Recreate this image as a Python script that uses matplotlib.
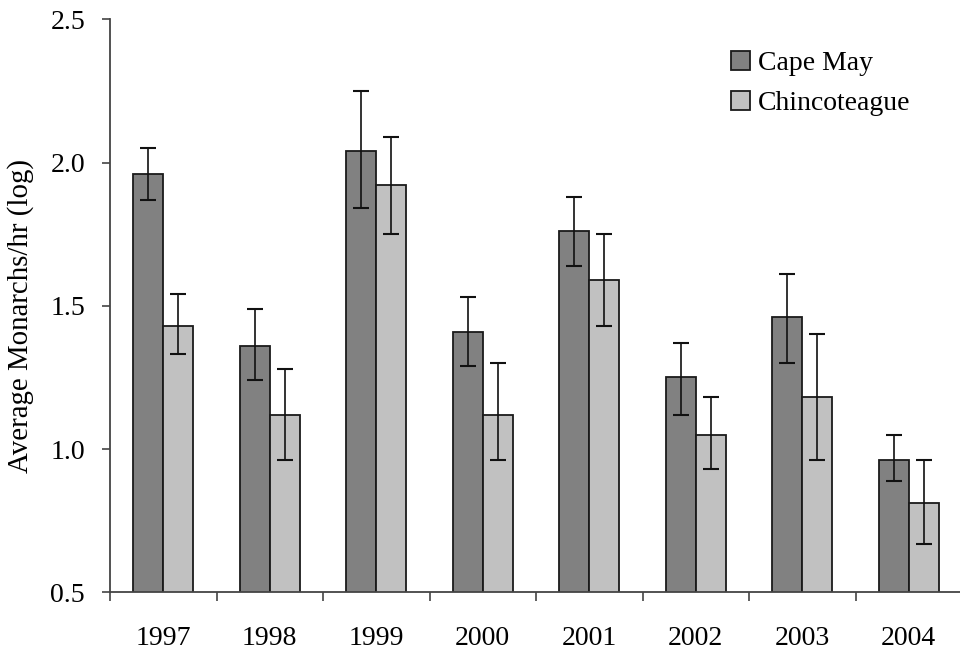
import matplotlib
matplotlib.use('Agg')
import matplotlib.pyplot as plt
import numpy as np

years = ['1997', '1998', '1999', '2000', '2001', '2002', '2003', '2004']

# mean log monarchs per hour, with upper / lower ends of the error bars
cape_may = [1.96, 1.36, 2.04, 1.41, 1.76, 1.25, 1.46, 0.96]
cape_may_hi = [2.05, 1.49, 2.25, 1.53, 1.88, 1.37, 1.61, 1.05]
cape_may_lo = [1.87, 1.24, 1.84, 1.29, 1.64, 1.12, 1.30, 0.89]

chinco = [1.43, 1.12, 1.92, 1.12, 1.59, 1.05, 1.18, 0.81]
chinco_hi = [1.54, 1.28, 2.09, 1.30, 1.75, 1.18, 1.40, 0.96]
chinco_lo = [1.33, 0.96, 1.75, 0.96, 1.43, 0.93, 0.96, 0.67]

plt.rcParams['font.family'] = ['Liberation Serif', 'DejaVu Serif']

fig = plt.figure(figsize=(9.6, 6.5), dpi=100)
ax = fig.add_axes([0.1146, 0.0888, 0.8875, 0.8815])

x = np.arange(len(years))
w = 0.28

def err(vals, hi, lo):
    vals = np.array(vals)
    return [vals - np.array(lo), np.array(hi) - vals]

ax.bar(x - w / 2, cape_may, w, bottom=0, color='#818181', edgecolor='#1a1a1a',
       linewidth=1.3, label='Cape May', zorder=2)
ax.bar(x + w / 2, chinco, w, bottom=0, color='#c1c1c1', edgecolor='#1a1a1a',
       linewidth=1.3, label='Chincoteague', zorder=2)
ax.errorbar(x - w / 2, cape_may, yerr=err(cape_may, cape_may_hi, cape_may_lo),
            fmt='none', ecolor='#111111', elinewidth=1.2, capsize=6,
            capthick=1.5, zorder=3)
ax.errorbar(x + w / 2, chinco, yerr=err(chinco, chinco_hi, chinco_lo),
            fmt='none', ecolor='#111111', elinewidth=1.2, capsize=6,
            capthick=1.5, zorder=3)

ax.set_ylim(0.5, 2.5)
ax.set_xlim(-0.5, 7.5)
ax.set_yticks([0.5, 1.0, 1.5, 2.0, 2.5])
ax.set_yticklabels(['0.5', '1.0', '1.5', '2.0', '2.5'])
ax.set_xticks(x)
ax.set_xticklabels(years)
ax.set_xticks(np.arange(-0.5, 8, 1), minor=True)

for s in ['top', 'right']:
    ax.spines[s].set_visible(False)
for s in ['left', 'bottom']:
    ax.spines[s].set_color('#444444')
    ax.spines[s].set_linewidth(1.3)

ax.tick_params(axis='y', direction='out', length=6, width=1.2,
               color='#444444', labelsize=20, pad=12)
ax.tick_params(axis='x', which='major', length=0, labelsize=20, pad=24)
ax.tick_params(axis='x', which='minor', direction='out', length=6.5,
               width=1.2, color='#444444')

ax.set_ylabel('Average Monarchs/hr (log)', fontsize=20.8)
ax.yaxis.set_label_coords(-0.0895, 0.482)

ax.legend(loc='upper left', bbox_to_anchor=(0.761, 0.922),
          bbox_transform=fig.transFigure, frameon=False, fontsize=20,
          handlelength=0.7, handleheight=0.7, handletextpad=0.3,
          labelspacing=0.53, borderpad=0, borderaxespad=0)

fig.savefig('out.png', dpi=100)
